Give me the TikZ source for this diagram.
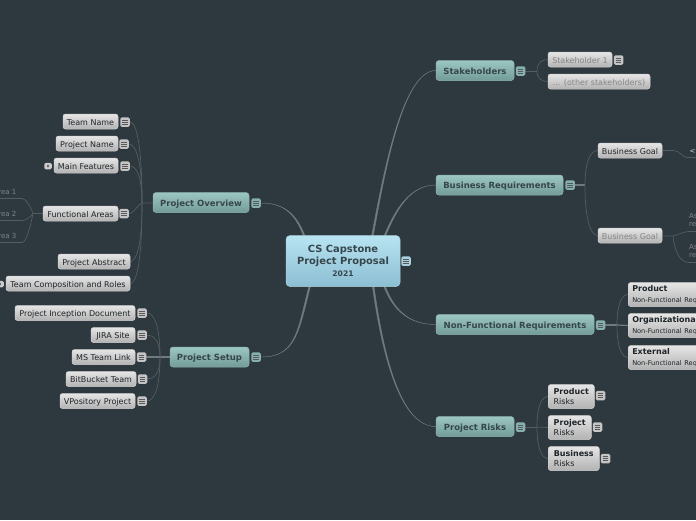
\documentclass[tikz,border=0pt]{standalone}
\usepackage{fontspec}
\setmainfont{DejaVu Sans}
\usetikzlibrary{calc,backgrounds}
\definecolor{bgc}{HTML}{2E383F}
\definecolor{wire}{HTML}{525E61}
\definecolor{wirethick}{HTML}{6F7B7D}
\definecolor{darktext}{HTML}{1E2428}
\definecolor{tealtext}{HTML}{36464C}
\definecolor{faded}{HTML}{858585}
\definecolor{subtext}{HTML}{7F868A}
\definecolor{tealtop}{HTML}{9CC6C2}
\definecolor{tealbot}{HTML}{739C99}
\definecolor{tealedge}{HTML}{8DB5B2}
\definecolor{skytop}{HTML}{B8E4F2}
\definecolor{skybot}{HTML}{8CBED2}
\definecolor{skyedge}{HTML}{A8D0DE}
\definecolor{tealicon}{HTML}{86B0AD}
\definecolor{greyicon}{HTML}{C4C4C4}
\tikzset{
  x=1pt,y=-1pt,
  leafbase/.style={rounded corners=2.5pt,draw=white!82!black,line width=.5pt,top color=white!90!black,bottom color=white!70!black,inner sep=0pt,text=darktext,font=\fontsize{8}{10}\selectfont},
  leaf/.style={leafbase,minimum height=15pt,text height=7.5pt,text depth=.5pt},
  fadedleaf/.style={leaf,text=faded},
  tall/.style={leafbase,minimum height=24pt,align=left,anchor=west,inner xsep=4pt,yshift=-.5pt},
  branch/.style={rounded corners=3pt,draw=tealedge,line width=.5pt,top color=tealtop,bottom color=tealbot,inner sep=0pt,text=tealtext,font=\bfseries\fontsize{8.5}{10}\selectfont,minimum height=20pt,text height=7.5pt,text depth=.5pt},
  rootbox/.style={rounded corners=4pt,draw=skyedge,line width=.5pt,top color=skytop,bottom color=skybot,inner sep=0pt,text=tealtext,font=\bfseries\fontsize{9.9}{12.2}\selectfont,align=center,minimum width=114pt,minimum height=51pt},
  menuicon/.style={rounded corners=1.5pt,minimum size=9.5pt,inner sep=0pt,fill=#1,draw=none,path picture={
    \draw[line width=.6pt,black!65] ([xshift=-2.8pt,yshift=2.1pt]path picture bounding box.center) -- ++(5.6pt,0);
    \draw[line width=.6pt,black!65] ([xshift=-2.8pt]path picture bounding box.center) -- ++(5.6pt,0);
    \draw[line width=.6pt,black!65] ([xshift=-2.8pt,yshift=-2.1pt]path picture bounding box.center) -- ++(5.6pt,0);}},
  noteicon/.style={rounded corners=1.5pt,minimum width=7.5pt,minimum height=6.5pt,inner sep=0pt,fill=white!80!black,path picture={
    \fill[black!60] ([xshift=-1.2pt,yshift=-1.6pt]path picture bounding box.center) rectangle ++(2.4pt,3.2pt);}},
  thinwire/.style={draw=wire,line width=.7pt},
  thickwire/.style={draw=wirethick,line width=1.2pt},
  plain/.style={inner sep=0pt,text=subtext,font=\fontsize{7}{9}\selectfont,anchor=west},
}
\newcommand\hook[2]{\draw[thinwire] (#1) .. controls ($(#1)!0.75!(#1|-#2)$) and ($(#2)!0.5!(#2-|#1)$) .. (#2);}
\newcommand\taper[4]{\filldraw[draw=wirethick,fill=wirethick,line width=.4pt] ($(#1)+(-.8,0)$) .. controls ($(#1)+(#2)+(-.8,0)$) and ($(#4)+(#3)$) .. (#4) .. controls ($(#4)+(#3)$) and ($(#1)+(#2)+(.8,0)$) .. ($(#1)+(.8,0)$) -- cycle;}
\begin{document}
\begin{tikzpicture}
\useasboundingbox (0,0) rectangle (696,520);
% root
\node[rootbox] (root) at (343,261) {CS Capstone\\Project Proposal\\[-.5pt]{\fontsize{7.6}{10}\selectfont 2021}};
\node[menuicon=skyedge] (rooti) at (406,261) {};
% right branches
\node[branch,minimum width=78pt] (st) at (475,70.5) {Stakeholders};
\node[menuicon=tealicon] (sti) at (520.5,71) {};
\node[fadedleaf,minimum width=64pt] (st1) at (580,59.5) {Stakeholder 1};
\node[menuicon=greyicon] (st1i) at (618.5,60) {};
\node[fadedleaf,minimum width=102pt] (st2) at (599,81.5) {... (other stakeholders)};
\node[branch,minimum width=127pt] (br) at (499.5,185) {Business Requirements};
\node[menuicon=tealicon] (bri) at (570,185) {};
\node[leaf,minimum width=64pt] (bg1) at (630,150.5) {Business Goal};
\node[fadedleaf,minimum width=64pt] (bg2) at (630,235.5) {Business Goal};
\node[plain,text=white!85!black] (g1t) at (689.5,151) {<};
\node[plain] (g2a) at (689,215.5) {As};
\node[plain] (g2b) at (689,224.5) {re};
\node[plain] (g2c) at (689,246.5) {As};
\node[plain] (g2d) at (689,255.5) {re};
\coordinate (g1u) at (696,157.5);
\coordinate (g2u) at (696,231.5);
\coordinate (g3u) at (696,262.5);
\node[branch,minimum width=158pt] (nf) at (515,324.5) {Non-Functional Requirements};
\node[menuicon=tealicon] (nfi) at (600.5,325) {};
\node[tall,text width=112pt] (nf1) at (628,294) {\textbf{Product}\\[.5pt]{\fontsize{6.6}{9}\selectfont Non-Functional Requirements}};
\node[tall,text width=112pt] (nf2) at (628,325) {\textbf{Organizational}\\[.5pt]{\fontsize{6.6}{9}\selectfont Non-Functional Requirements}};
\node[tall,text width=112pt] (nf3) at (628,357) {\textbf{External}\\[.5pt]{\fontsize{6.6}{9}\selectfont Non-Functional Requirements}};
\node[branch,minimum width=78pt] (rk) at (475,426.5) {Project Risks};
\node[menuicon=tealicon] (rki) at (520.5,427) {};
\node[tall,minimum width=46pt] (rk1) at (548,396) {\textbf{Product}\\Risks};
\node[menuicon=greyicon] (rk1i) at (600.5,395.5) {};
\node[tall,minimum width=43pt] (rk2) at (548,427) {\textbf{Project}\\Risks};
\node[menuicon=greyicon] (rk2i) at (597.5,427) {};
\node[tall,minimum width=51pt] (rk3) at (548,458) {\textbf{Business}\\Risks};
\node[menuicon=greyicon] (rk3i) at (605.5,458.5) {};
% left: project overview
\node[branch,minimum width=96pt] (po) at (201,202.5) {Project Overview};
\node[menuicon=tealicon] (poi) at (256,203) {};
\node[leaf,minimum width=55pt] (tn) at (90.5,121.5) {Team Name};
\node[menuicon=greyicon] (tni) at (125,122) {};
\node[leaf,minimum width=62pt] (pn) at (87,143.5) {Project Name};
\node[menuicon=greyicon] (pni) at (124,144) {};
\node[leaf,minimum width=64pt] (mf) at (86,165.5) {Main Features};
\node[menuicon=greyicon] (mfi) at (125,166) {};
\node[noteicon] (mfn) at (48,166) {};
\node[leaf,minimum width=75pt] (fa) at (80.5,213.5) {Functional Areas};
\node[menuicon=greyicon] (fai) at (124,213.5) {};
\node[plain,anchor=east] (a1) at (16.5,191.5) {Area 1};
\node[plain,anchor=east] (a2) at (16.5,213.5) {Area 2};
\node[plain,anchor=east] (a3) at (16.5,235.5) {Area 3};
\coordinate (a1u) at (0,198.5);
\coordinate (a2u) at (0,220.5);
\coordinate (a3u) at (0,242.5);
\node[leaf,minimum width=72pt] (pa) at (94,261.5) {Project Abstract};
\node[leaf,minimum width=124pt] (tc) at (68,283.5) {Team Composition and Roles};
\node[noteicon] (tcn) at (0,284) {};
% left: project setup
\node[branch,minimum width=79pt] (ps) at (209.5,357) {Project Setup};
\node[menuicon=tealicon] (psi) at (256,357) {};
\node[leaf,minimum width=120pt] (pi) at (75,313) {Project Inception Document};
\node[menuicon=greyicon] (pii) at (142,313) {};
\node[leaf,minimum width=44pt] (ji) at (113,335) {JIRA Site};
\node[menuicon=greyicon] (jii) at (142,335) {};
\node[leaf,minimum width=63pt] (ms) at (103.5,357) {MS Team Link};
\node[menuicon=greyicon] (msi) at (141.5,357) {};
\node[leaf,minimum width=70pt] (bb) at (101,379) {BitBucket Team};
\node[menuicon=greyicon] (bbi) at (142.5,379) {};
\node[leaf,minimum width=75pt] (vp) at (97.5,401) {VPository Project};
\node[menuicon=greyicon] (vpi) at (142,401) {};
% junctions
\coordinate (jst) at (537,71);
\coordinate (jbr) at (585,185);
\coordinate (jnf) at (617,325);
\coordinate (jrk) at (537,427);
\coordinate (jpo) at (142,203);
\coordinate (jps) at (160,357);
\coordinate (jfa) at (33,213.5);
\coordinate (jb2) at (673,236);
% hidden starting points of the main branches, at the root's rim
\coordinate (rst) at (372,238);
\coordinate (rbr) at (384,238);
\coordinate (rnf) at (384,285);
\coordinate (rrk) at (373,285);
\coordinate (rpo) at (305,238);
\coordinate (rps) at (310,285);
\begin{scope}[on background layer]
\fill[bgc] (0,0) rectangle (696,520);
% root to branches
\taper{rst}{10,-52}{-35,0}{st.west}
\taper{rbr}{12,-30}{-25,0}{br.west}
\taper{rnf}{10,27}{-25,0}{nf.west}
\taper{rrk}{10,72}{-35,0}{rk.west}
\taper{rpo}{-8,-22}{25,0}{poi.east}
\taper{rps}{-12,47}{35,0}{psi.east}
% icon to junction
\draw[thinwire] (sti) -- (jst);
\draw[thickwire] (bri) -- (jbr);
\draw[thickwire] (nfi) -- (jnf);
\draw[thinwire] (rki) -- (jrk);
\draw[thinwire] (po) -- (jpo);
\draw[thickwire] (ps) -- (jps);
\draw[thinwire] (fa) -- (jfa);
\draw[thinwire] (bg2) -- (jb2);
% stakeholders
\hook{jst}{st1.west}
\hook{jst}{st2.west}
% business requirements
\hook{jbr}{bg1.west}
\hook{jbr}{bg2.west}
\draw[thinwire] (bg1.east) -- ++(11,0) .. controls +(7,0) and +(-5,0) .. (687,157.5) -- (g1u);
\draw[thinwire] (jb2) .. controls +(5,-1) and +(-6,0) .. (689,231.5) -- (g2u);
\draw[thinwire] (jb2) .. controls +(2,18) and +(-8,0) .. (689,262.5) -- (g3u);
% nfr
\hook{jnf}{nf1.west}
\draw[thickwire] (jnf) -- (nf2.west);
\hook{jnf}{nf3.west}
% risks
\hook{jrk}{rk1.west}
\draw[thinwire] (jrk) -- (rk2.west);
\hook{jrk}{rk3.west}
% overview
\hook{jpo}{tni.east}
\hook{jpo}{pni.east}
\hook{jpo}{mfi.east}
\draw[thinwire] (jpo) .. controls +(-3,0) and +(5,0) .. (fai.east);
\hook{jpo}{pa.east}
\hook{jpo}{tc.east}
% functional areas
\draw[thinwire] (jfa) .. controls +(-2,-6) and +(4,0) .. (22,198.5) -- (a1u);
\draw[thinwire] (jfa) .. controls +(-3,4) and +(4,0) .. (22,220.5) -- (a2u);
\draw[thinwire] (jfa) .. controls +(-3,15) and +(4,0) .. (22,242.5) -- (a3u);
% setup
\hook{jps}{pii.east}
\hook{jps}{jii.east}
\draw[thickwire] (jps) -- (msi.east);
\hook{jps}{bbi.east}
\hook{jps}{vpi.east}
\end{scope}
\end{tikzpicture}
\end{document}
